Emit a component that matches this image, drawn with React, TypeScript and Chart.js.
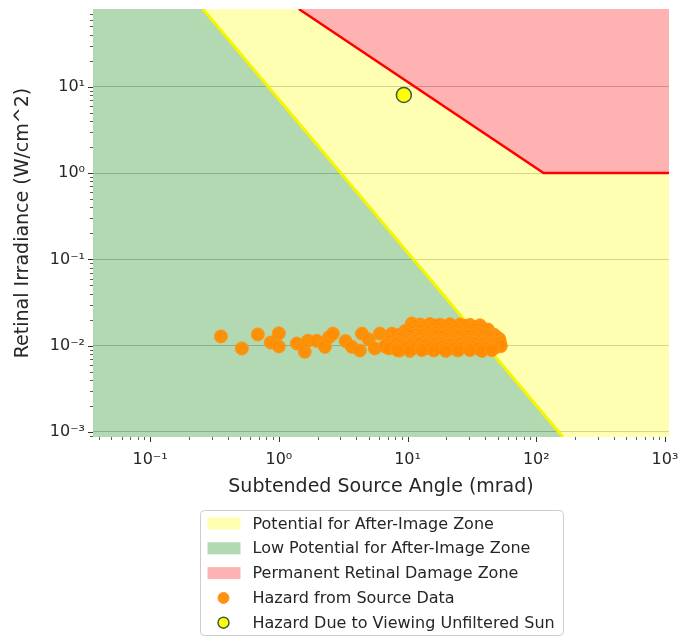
import React, { useEffect, useRef } from "react";
import { Chart, registerables } from "chart.js";

Chart.register(...registerables);

// Axis bounds
const X_MIN = 0.036;
const X_MAX = 1074;
const Y_MIN = 0.000875;
const Y_MAX = 79.7;

// Hazard due to viewing the unfiltered sun
const sunAngle = [9.36];
const sunIrradiance = [8.04];

// Hazard from source data (mrad, W/cm^2)
const sourceAngle = [
  0.355, 0.516, 0.687, 0.866, 1.0, 1.0, 1.38, 1.59, 1.68, 1.97, 2.28, 2.45, 2.63, 3.3, 3.69, 4.26, 4.42, 5.0, 5.57, 6.09, 7.55, 8.71, 10.0, 10.8, 12.5,
  12.5, 14.9, 17.8, 21.3, 25.5, 30.5, 36.5,
  11.4, 13.6, 16.3, 19.5, 23.3, 27.9, 33.3,
  10.4, 12.0, 13.9, 16.0, 18.5, 21.3, 24.6, 28.4, 32.7, 37.8, 42.1,
  9.53, 10.8, 12.5, 14.4, 16.6, 19.1, 22.1, 25.5, 29.4, 33.9, 39.2,
  10.1, 11.6, 13.3, 15.3, 17.6, 20.3, 23.4, 27.0, 31.0, 35.8, 41.0, 47.0,
  8.55, 9.87, 11.4, 13.1, 15.2, 17.5, 20.2, 23.3, 26.9, 31.0, 35.8, 41.3, 47.7,
  7.97, 9.19, 10.6, 12.2, 14.1, 16.3, 18.8, 21.7, 25.0, 28.9, 33.3, 38.5, 44.4, 49.4,
  7.6, 8.8, 10.1, 11.6, 13.4, 15.4, 17.7, 20.4, 23.5, 27.1, 31.2, 35.9, 41.3, 47.5, 51.5,
  7.29, 8.41, 9.7, 11.2, 12.9, 14.9, 17.2, 19.8, 22.9, 26.4, 30.5, 35.2, 40.6, 46.8, 52.1,
  7.97, 9.19, 10.6, 12.2, 14.1, 16.3, 18.8, 21.7, 25.0, 28.9, 33.3, 38.5, 44.4, 50.0,
  7.0, 8.1, 9.3, 10.7, 12.3, 14.2, 16.3, 18.8, 21.7, 25.0, 28.8, 33.1, 38.1, 43.9, 50.5,
  6.66, 7.69, 8.87, 10.2, 11.8, 13.6, 15.7, 18.1, 20.9, 24.2, 27.9, 32.2, 37.1, 42.8, 49.4, 53.0,
  7.16, 8.25, 9.53, 11.0, 12.7, 14.6, 16.9, 19.5, 22.5, 26.0, 29.9, 34.6, 39.9, 46.0,
  8.41, 10.4, 12.9, 16.0, 19.8, 24.6, 30.5, 37.8, 45.2,
];
const sourceIrradiance = [
  0.0128, 0.0093, 0.0135, 0.0109, 0.0139, 0.0098, 0.0106, 0.0085, 0.0114, 0.0114, 0.0097, 0.0125, 0.0138, 0.0113, 0.0097, 0.0088, 0.0138, 0.0118, 0.0093, 0.0138, 0.0138, 0.0088, 0.0138, 0.0181, 0.0138,
  0.0176, 0.0178, 0.0175, 0.0177, 0.0176, 0.0174, 0.0172,
  0.017, 0.0167, 0.0171, 0.0168, 0.0166, 0.0169, 0.0165,
  0.0157, 0.0158, 0.0156, 0.0157, 0.0159, 0.0156, 0.0157, 0.0158, 0.0156, 0.0155, 0.0154,
  0.0147, 0.0145, 0.0149, 0.0146, 0.0144, 0.0148, 0.0146, 0.0145, 0.0147, 0.0143, 0.0141,
  0.0137, 0.0136, 0.0138, 0.0137, 0.0135, 0.0138, 0.0136, 0.0137, 0.0135, 0.0138, 0.0136, 0.0134,
  0.0133, 0.0132, 0.0134, 0.0133, 0.0131, 0.0133, 0.0132, 0.0134, 0.0133, 0.0131, 0.0133, 0.0132, 0.013,
  0.0129, 0.0127, 0.013, 0.0128, 0.0126, 0.0129, 0.0128, 0.0127, 0.013, 0.0128, 0.0126, 0.0129, 0.0127, 0.0125,
  0.0119, 0.0121, 0.0118, 0.012, 0.0119, 0.0121, 0.0118, 0.012, 0.0119, 0.0121, 0.0118, 0.012, 0.0119, 0.0118, 0.012,
  0.0113, 0.0111, 0.0112, 0.0114, 0.0111, 0.0113, 0.0112, 0.011, 0.0113, 0.0112, 0.0111, 0.0113, 0.0112, 0.011, 0.0111,
  0.0108, 0.0107, 0.0109, 0.0108, 0.0107, 0.0109, 0.0108, 0.0107, 0.0108, 0.0109, 0.0107, 0.0108, 0.0107, 0.0108,
  0.0104, 0.0105, 0.0103, 0.0104, 0.0106, 0.0103, 0.0105, 0.0104, 0.0103, 0.0105, 0.0104, 0.0106, 0.0103, 0.0104, 0.0105,
  0.0098, 0.0097, 0.0099, 0.0098, 0.0096, 0.0099, 0.0097, 0.0098, 0.0096, 0.0099, 0.0097, 0.0098, 0.0096, 0.0098, 0.0097, 0.0099,
  0.0093, 0.0092, 0.0094, 0.0093, 0.0092, 0.0093, 0.0094, 0.0092, 0.0093, 0.0094, 0.0092, 0.0093, 0.0094, 0.0093,
  0.0088, 0.0087, 0.0089, 0.0088, 0.0087, 0.0088, 0.0089, 0.0087, 0.0089,
];

// Zone boundaries
const afterImageLineAngle = [0.257, 161];
const afterImageLineIrradiance = [Y_MAX, Y_MIN];
const lowZoneAngle = [X_MIN, 0.257, 161, X_MAX];
const lowZoneIrradiance = [Y_MAX, Y_MAX, Y_MIN, Y_MIN];
const damageAngle = [1.43, 114, X_MAX];
const damageIrradiance = [Y_MAX, 1, 1];
const potentialTopAngle = [X_MIN, 1.43, 114, X_MAX];
const potentialTopIrradiance = [Y_MAX, Y_MAX, 1, 1];

const legendOrder = [5, 4, 2, 1, 0];

const FONT = "'DejaVu Sans', sans-serif";
const TEXT = "#262626";

const SUP: Record<string, string> = {
  "-": "\u207B", "0": "\u2070", "1": "\u00B9", "2": "\u00B2", "3": "\u00B3",
  "4": "\u2074", "5": "\u2075", "6": "\u2076", "7": "\u2077", "8": "\u2078", "9": "\u2079",
};
const isPow10 = (v: number) => {
  const l = Math.log10(v);
  return Math.abs(l - Math.round(l)) < 1e-9;
};
const powLabel = (v: number) =>
  "10" + String(Math.round(Math.log10(v))).split("").map((c) => SUP[c]).join("");

function logTicks(min: number, max: number) {
  const out: { value: number }[] = [];
  for (let e = Math.floor(Math.log10(min)); e <= Math.ceil(Math.log10(max)); e++) {
    for (let m = 1; m <= 9; m++) {
      const v = m * Math.pow(10, e);
      if (v >= min && v <= max) out.push({ value: v });
    }
  }
  return out;
}

const pts = (xs: number[], ys: number[]) => xs.map((x, i) => ({ x, y: ys[i] }));

const tickMarks = {
  id: "tickMarks",
  afterDraw(chart: any) {
    const { ctx, chartArea, scales } = chart;
    ctx.save();
    ctx.strokeStyle = "#333";
    for (const t of scales.x.ticks) {
      const major = isPow10(t.value);
      const px = Math.round(scales.x.getPixelForValue(t.value)) + 0.5;
      ctx.lineWidth = major ? 1 : 0.8;
      ctx.beginPath();
      ctx.moveTo(px, chartArea.bottom);
      ctx.lineTo(px, chartArea.bottom + (major ? 5 : 3));
      ctx.stroke();
    }
    for (const t of scales.y.ticks) {
      const major = isPow10(t.value);
      const py = Math.round(scales.y.getPixelForValue(t.value)) + 0.5;
      ctx.lineWidth = major ? 1 : 0.8;
      ctx.beginPath();
      ctx.moveTo(chartArea.left, py);
      ctx.lineTo(chartArea.left - (major ? 5 : 3), py);
      ctx.stroke();
    }
    ctx.restore();
  },
};

const boxLegend = {
  id: "boxLegend",
  afterDraw(chart: any) {
    const { ctx, chartArea } = chart;
    const w = 363;
    const h = 125;
    const left = Math.round((chartArea.left + chartArea.right) / 2 - w / 2) + 0.5;
    const top = Math.round(chartArea.bottom + 73) + 0.5;
    ctx.save();
    ctx.beginPath();
    (ctx as any).roundRect(left, top, w, h, 4);
    ctx.fillStyle = "rgba(255,255,255,0.8)";
    ctx.fill();
    ctx.strokeStyle = "#cccccc";
    ctx.lineWidth = 1;
    ctx.stroke();
    ctx.font = `16px ${FONT}`;
    ctx.textBaseline = "middle";
    ctx.textAlign = "left";
    legendOrder.forEach((di, i) => {
      const ds = chart.data.datasets[di];
      const cy = top + 13 + i * 24.8;
      if (ds.type === "line") {
        ctx.fillStyle = ds.backgroundColor;
        ctx.fillRect(left + 7, cy - 6, 33, 12);
      } else {
        ctx.beginPath();
        ctx.arc(left + 23, cy, 5.5, 0, Math.PI * 2);
        ctx.fillStyle = ds.backgroundColor;
        ctx.fill();
        ctx.lineWidth = ds.borderWidth;
        ctx.strokeStyle = ds.borderColor;
        ctx.stroke();
      }
      ctx.fillStyle = TEXT;
      ctx.fillText(ds.label, left + 52, cy + 1);
    });
    ctx.restore();
  },
};

export default function App() {
  const ref = useRef<HTMLCanvasElement>(null);
  useEffect(() => {
    const yellowFill = "rgba(255,255,0,0.3)";
    const greenFill = "rgba(0,128,0,0.3)";
    const redFill = "rgba(255,0,0,0.3)";
    const chart = new Chart(ref.current as HTMLCanvasElement, {
      type: "scatter",
      data: {
        datasets: [
          {
            type: "scatter",
            label: "Hazard Due to Viewing Unfiltered Sun",
            data: pts(sunAngle, sunIrradiance),
            backgroundColor: "#ffff00",
            borderColor: "#3d5a4f",
            borderWidth: 1.5,
            pointRadius: 7.5,
          },
          {
            type: "scatter",
            label: "Hazard from Source Data",
            data: pts(sourceAngle, sourceIrradiance),
            backgroundColor: "rgba(255,140,0,0.95)",
            borderColor: "rgba(255,150,20,1)",
            borderWidth: 1,
            pointRadius: 6.5,
          },
          {
            type: "line",
            label: "Permanent Retinal Damage Zone",
            data: pts(damageAngle, damageIrradiance),
            borderColor: "#ff0000",
            borderWidth: 2.5,
            backgroundColor: redFill,
            fill: "end",
            pointRadius: 0,
            clip: 0,
          },
          {
            type: "line",
            label: "After-Image Threshold",
            data: pts(afterImageLineAngle, afterImageLineIrradiance),
            borderColor: "#f5f500",
            borderWidth: 3,
            fill: false,
            pointRadius: 0,
            clip: 0,
          },
          {
            type: "line",
            label: "Low Potential for After-Image Zone",
            data: pts(lowZoneAngle, lowZoneIrradiance),
            borderWidth: 0,
            borderColor: "rgba(0,0,0,0)",
            backgroundColor: greenFill,
            fill: "start",
            pointRadius: 0,
            clip: 0,
          },
          {
            type: "line",
            label: "Potential for After-Image Zone",
            data: pts(potentialTopAngle, potentialTopIrradiance),
            borderWidth: 0,
            borderColor: "rgba(0,0,0,0)",
            backgroundColor: yellowFill,
            fill: { target: 4, above: yellowFill, below: yellowFill },
            pointRadius: 0,
            clip: 0,
          },
        ] as any,
      },
      options: {
        responsive: false,
        maintainAspectRatio: false,
        animation: false,
        events: [],
        devicePixelRatio: 1,
        layout: { padding: { left: 0, right: 9, top: 8, bottom: 137 } },
        plugins: { legend: { display: false }, tooltip: { enabled: false } },
        scales: {
          x: {
            type: "logarithmic",
            min: X_MIN,
            max: X_MAX,
            border: { display: false },
            grid: { display: false, drawTicks: false },
            afterBuildTicks: (s: any) => {
              s.ticks = logTicks(X_MIN, X_MAX);
            },
            afterFit: (s: any) => {
              s.height = 63;
              s.paddingLeft = 0;
              s.paddingRight = 0;
            },
            ticks: {
              autoSkip: false,
              maxRotation: 0,
              minRotation: 0,
              padding: 13,
              color: TEXT,
              font: { family: FONT, size: 16 },
              callback: (v: any) => (isPow10(Number(v)) ? powLabel(Number(v)) : ""),
            },
            title: {
              display: true,
              text: "Subtended Source Angle (mrad)",
              color: TEXT,
              font: { family: FONT, size: 19 },
              padding: { top: 0, bottom: 2 },
            },
          },
          y: {
            type: "logarithmic",
            min: Y_MIN,
            max: Y_MAX,
            border: { display: false },
            grid: {
              drawTicks: false,
              lineWidth: 1,
              color: (c: any) => (c.tick && isPow10(c.tick.value) ? "#c4c4c4" : "rgba(0,0,0,0)"),
            },
            afterBuildTicks: (s: any) => {
              s.ticks = logTicks(Y_MIN, Y_MAX);
            },
            afterFit: (s: any) => {
              s.width = 93;
              s.paddingTop = 0;
              s.paddingBottom = 0;
            },
            ticks: {
              autoSkip: false,
              padding: 8,
              color: TEXT,
              font: { family: FONT, size: 16 },
              callback: (v: any) => (isPow10(Number(v)) ? powLabel(Number(v)) : ""),
            },
            title: {
              display: true,
              text: "Retinal Irradiance (W/cm^2)",
              color: TEXT,
              font: { family: FONT, size: 19 },
              padding: { top: 12, bottom: 0 },
            },
          },
        },
      },
      plugins: [tickMarks, boxLegend],
    } as any);
    return () => chart.destroy();
  }, []);
  return (
    <div style={{ position: "fixed", left: 0, top: 0, width: 678, height: 637, background: "#fff" }}>
      <canvas ref={ref} width={678} height={637} style={{ display: "block", width: 678, height: 637 }} />
    </div>
  );
}
